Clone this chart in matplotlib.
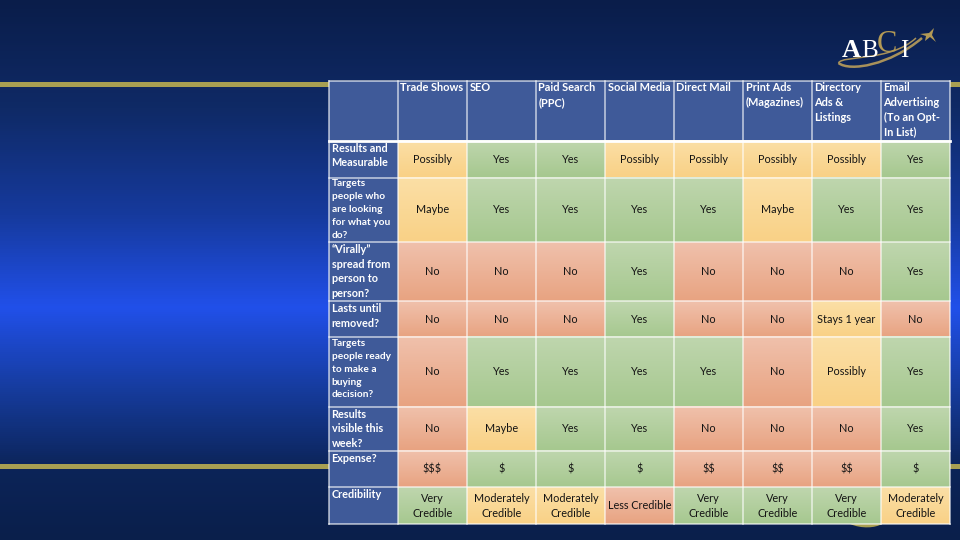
# Imports

import numpy as np
import matplotlib.pyplot as plt
from matplotlib.colors import LinearSegmentedColormap
from matplotlib.patches import Polygon
from matplotlib.path import Path
from matplotlib.patches import PathPatch

plt.rcParams['font.family'] = ['Lato', 'DejaVu Sans']
plt.rcParams['text.parse_math'] = False

# Table content

columns = ['Trade Shows', 'SEO', 'Paid Search\n(PPC)', 'Social Media', 'Direct Mail',
           'Print Ads\n(Magazines)', 'Directory\nAds &\nListings',
           'Email\nAdvertising\n(To an Opt-\nIn List)']
row_labels = ['Results and\nMeasurable',
              'Targets\npeople who\nare looking\nfor what you\ndo?',
              '\u201cVirally\u201d\nspread from\nperson to\nperson?',
              'Lasts until\nremoved?',
              'Targets\npeople ready\nto make a\nbuying\ndecision?',
              'Results\nvisible this\nweek?',
              'Expense?',
              'Credibility']
row_small = [False, True, False, False, True, False, False, False]
measurable = ['Possibly', 'Yes', 'Yes', 'Possibly', 'Possibly', 'Possibly', 'Possibly', 'Yes']
targets_looking = ['Maybe', 'Yes', 'Yes', 'Yes', 'Yes', 'Maybe', 'Yes', 'Yes']
virally = ['No', 'No', 'No', 'Yes', 'No', 'No', 'No', 'Yes']
lasts = ['No', 'No', 'No', 'Yes', 'No', 'No', 'Stays 1 year', 'No']
targets_ready = ['No', 'Yes', 'Yes', 'Yes', 'Yes', 'No', 'Possibly', 'Yes']
this_week = ['No', 'Maybe', 'Yes', 'Yes', 'No', 'No', 'No', 'Yes']
expense = ['$$$', '$', '$', '$', '$$', '$$', '$$', '$']
credibility = ['Very\nCredible', 'Moderately\nCredible', 'Moderately\nCredible', 'Less Credible',
               'Very\nCredible', 'Very\nCredible', 'Very\nCredible', 'Moderately\nCredible']
rows = [measurable, targets_looking, virally, lasts, targets_ready, this_week, expense, credibility]

# Which colour each answer gets
green = ['Yes', '$', 'Very\nCredible']
orange = ['Possibly', 'Maybe', 'Stays 1 year', 'Moderately\nCredible']

# Layout in pixels

x_edges = [329, 398, 467, 536, 605, 674, 743, 812, 881, 950]
y_edges = [81, 140.5, 177.5, 242, 301, 337, 406.5, 450.5, 487, 524]
header_blue = '#3f5a99'

fig = plt.figure(figsize=(9.6, 5.4), dpi=100)
ax = fig.add_axes([0, 0, 1, 1])
ax.set_xlim(0, 960)
ax.set_ylim(540, 0)
ax.axis('off')

# Background

bg = LinearSegmentedColormap.from_list('bg', [
    (0.0, '#0a1d4a'), (0.2, '#0f2a66'), (0.4, '#163a9e'), (0.57, '#2150ea'),
    (0.72, '#163c9e'), (0.87, '#0c2458'), (1.0, '#0a1f4b')])
ax.imshow(np.linspace(0, 1, 540).reshape(-1, 1), cmap=bg, extent=[0, 960, 540, 0],
          aspect='auto', zorder=0)

# Gold bands

gold = '#a89f52'
ax.fill_between([0, 960], 81.5, 86.5, color=gold, lw=0, zorder=1)
ax.fill_between([0, 960], 463.5, 469, color=gold, lw=0, zorder=1)

# Logo

logo_gold = '#a8915a'
ax.add_patch(PathPatch(Path([(838.5, 63), (850, 72), (890, 65), (922, 38)], [1, 4, 4, 4]),
                       fc='none', ec=logo_gold, lw=1.8, zorder=2))
ax.add_patch(PathPatch(Path([(838.5, 63), (842, 55), (890, 62), (916, 38)], [1, 4, 4, 4]),
                       fc='none', ec=logo_gold, lw=1.1, zorder=2))
ax.add_patch(Polygon([(920, 34), (929, 33), (934, 28), (932, 35), (936, 42), (930, 37), (925, 41), (926, 36)],
                     fc='#b39a55', ec='none', zorder=2))
ax.text(842, 57, 'A', color='white', fontsize=19, fontweight='bold', family='Liberation Serif',
        ha='left', va='baseline', zorder=3)
ax.text(861.5, 57, 'B', color='white', fontsize=18, family='Liberation Serif', ha='left', va='baseline', zorder=3)
ax.text(877, 52, 'C', color='#b39a55', fontsize=22, family='Liberation Serif', ha='left', va='baseline', zorder=3)
ax.text(904.5, 57, 'I', color='white', fontsize=18, family='Liberation Serif', ha='center', va='baseline', zorder=3)
ax.add_patch(PathPatch(Path([(850, 524), (862, 529), (875, 528), (882, 524)], [1, 4, 4, 4]),
                       fc='#a89f52', ec='none', zorder=1))

# Cells

def cell_gradient(top, bottom):
    return LinearSegmentedColormap.from_list('cell', [top, bottom])

cell_maps = {'green': cell_gradient('#bfd6ae', '#a6c88f'),
             'orange': cell_gradient('#fbdfa6', '#f9d186'),
             'red': cell_gradient('#f0c1ac', '#e8a381')}
grad = np.linspace(0, 1, 64).reshape(-1, 1)

ax.fill_between([x_edges[0], x_edges[-1]], y_edges[0], y_edges[-1], color=header_blue, lw=0, zorder=2)

for r, answers in enumerate(rows):
    for c, answer in enumerate(answers):
        if answer in green:
            name = 'green'
        elif answer in orange:
            name = 'orange'
        else:
            name = 'red'
        x0, x1 = x_edges[c + 1], x_edges[c + 2]
        y0, y1 = y_edges[r + 1], y_edges[r + 2]
        ax.imshow(grad, cmap=cell_maps[name], extent=[x0, x1, y1, y0], aspect='auto', zorder=2)
        ax.text((x0 + x1) / 2, (y0 + y1) / 2 + 0.2, answer, color='#141414', fontsize=7.8,
                ha='center', va='center', linespacing=1.42, zorder=4)

ax.set_xlim(0, 960)
ax.set_ylim(540, 0)

# Grid

for x in x_edges:
    ax.plot([x, x], [y_edges[0], y_edges[-1]], color='white', alpha=0.7, lw=1.1, zorder=3)
for i, y in enumerate(y_edges):
    ax.plot([x_edges[0], x_edges[-1]], [y, y], color='white', alpha=1.0 if i == 1 else 0.7,
            lw=2.0 if i == 1 else 1.1, zorder=3)

# Headers

for c, name in enumerate(columns):
    ax.text(x_edges[c + 1] + 2.5, y_edges[0] + 1, name, color='white', fontsize=7.9, fontweight='bold',
            ha='left', va='top', linespacing=1.42, zorder=4)
for r, name in enumerate(row_labels):
    size = 7.3 if row_small[r] else 7.8
    ax.text(x_edges[0] + 2.5, y_edges[r + 1] + 2, name, color='white', fontsize=size, fontweight='bold',
            ha='left', va='top', linespacing=1.55 if row_small[r] else 1.4, zorder=4)

fig.savefig('out.png', dpi=100)
